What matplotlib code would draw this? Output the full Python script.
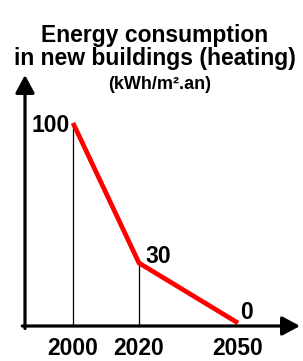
import matplotlib
matplotlib.use("Agg")
import matplotlib.pyplot as plt

years = [2000, 2020, 2050]
values = [100, 30, 0]
value_labels = ["100", "30", "0"]
tick_labels = ["2000", "2020", "2050"]
title_lines = ["Energy consumption", "in new buildings (heating)"]
unit_text = "(kWh/m².an)"

plt.rcParams['font.family'] = ['Liberation Sans', 'DejaVu Sans']

W, H = 303, 361
fig = plt.figure(figsize=(W / 100, H / 100), dpi=100)
fig.patch.set_facecolor('white')

left_px, right_px, bottom_px, top_px = 25, 300, 326, 75
ax = fig.add_axes([left_px / W, (H - bottom_px) / H,
                   (right_px - left_px) / W, (bottom_px - top_px) / H])
ax.set_xlim(1985.45, 2068.8)
ax.set_ylim(-1.5, 124)
ax.axis('off')

# axes arrows
arrow_kw = dict(arrowstyle='-|>,head_length=1.08,head_width=0.58', color='black',
                lw=2.3, mutation_scale=10, shrinkA=0, shrinkB=0)
ax.annotate('', xy=(0, 1), xytext=(0, -0.01), xycoords='axes fraction',
            arrowprops=arrow_kw, annotation_clip=False)
ax.annotate('', xy=(1, 0), xytext=(-0.01, 0), xycoords='axes fraction',
            arrowprops=arrow_kw, annotation_clip=False)

# thin drop lines
for x, y in zip(years, values):
    if y > 0:
        ax.plot([x, x], [-1.5, y], color='black', lw=0.9, clip_on=False)

ax.plot(years, values, color='#ff0000', lw=3.4, clip_on=False,
        solid_capstyle='butt', solid_joinstyle='miter')

fs = 16.5
# value labels
ax.text(1999.1, 95.5, value_labels[0], ha='right', va='baseline',
        fontsize=fs, fontweight='bold')
ax.text(2022.1, 30, value_labels[1], ha='left', va='baseline',
        fontsize=fs, fontweight='bold')
ax.text(2050.6, 2, value_labels[2], ha='left', va='baseline',
        fontsize=fs, fontweight='bold')

# tick labels
for x, t in zip(years, tick_labels):
    ax.text(x, -16, t, ha='center', va='baseline', fontsize=fs, fontweight='bold')

fig.text(155 / W, 1 - 42 / H, title_lines[0], ha='center', va='baseline',
         fontsize=16.5, fontweight='bold')
fig.text(155 / W, 1 - 65.5 / H, title_lines[1], ha='center', va='baseline',
         fontsize=16.5, fontweight='bold')
fig.text(159.5 / W, 1 - 89 / H, unit_text, ha='center', va='baseline',
         fontsize=13, fontweight='bold')

fig.savefig('out.png', dpi=100, facecolor='white')
